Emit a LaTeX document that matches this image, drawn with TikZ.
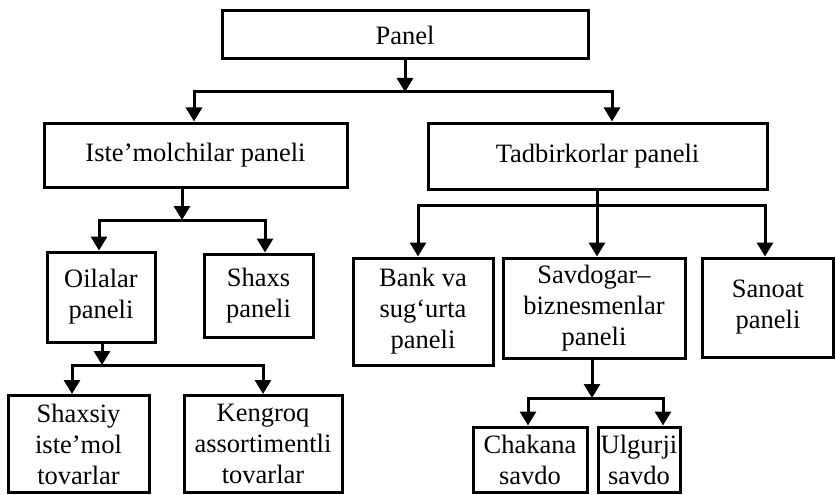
\documentclass[tikz,border=0pt]{standalone}
\usepackage{fontspec}
\setmainfont{Liberation Serif}
\usetikzlibrary{arrows.meta}
\begin{document}
\begin{tikzpicture}[x=1pt,y=-1pt,
  box/.style={draw, line width=3pt, inner sep=0pt, align=center,
    font=\fontsize{26.5}{31}\selectfont},
  conn/.style={line width=3pt, line cap=rect},
  arr/.style={conn, -{Triangle[width=16pt,length=14pt]}}]
\useasboundingbox (0,0) rectangle (836,495);
% boxes
\node[box, minimum width=366pt, minimum height=48pt] (panel) at (405,35) {Panel};
\node[box, minimum width=303pt, minimum height=64pt] (iste) at (195.5,155) {Iste’molchilar paneli};
\node[box, minimum width=339pt, minimum height=66pt] (tad) at (597.5,156) {Tadbirkorlar paneli};
\node[box, minimum width=108pt, minimum height=90pt] (oil) at (101,297) {Oilalar\\paneli};
\node[box, minimum width=109pt, minimum height=83pt] (shaxs) at (258.5,295.5) {Shaxs\\paneli};
\node[box, minimum width=140pt, minimum height=107pt] (bank) at (423,311.5) {Bank va\\sug‘urta\\paneli};
\node[box, minimum width=182pt, minimum height=100pt] (savdo) at (594,308) {Savdogar–\\biznesmenlar\\paneli};
\node[box, minimum width=131pt, minimum height=99pt] (sanoat) at (768,307.5) {Sanoat\\paneli};
\node[box, minimum width=141pt, minimum height=97pt] (shaxsiy) at (78.5,444) {Shaxsiy\\iste’mol\\tovarlar};
\node[box, minimum width=158pt, minimum height=97pt] (keng) at (263,444) {Kengroq\\assortimentli\\tovarlar};
\node[box, minimum width=114pt, minimum height=65pt] (chak) at (530,459.5) {Chakana\\savdo};
\node[box, minimum width=82pt, minimum height=65pt] (ulg) at (639,459.5) {Ulgurji\\savdo};
% junctions
\coordinate (p1) at (405,92);
\coordinate (p1L) at (194,92);
\coordinate (p1R) at (612,92);
\coordinate (i1) at (182,220);
\coordinate (i1L) at (99,220);
\coordinate (i1R) at (265,220);
\coordinate (t1) at (597,205);
\coordinate (t1L) at (418,205);
\coordinate (t1R) at (765,205);
\coordinate (o1) at (102,365);
\coordinate (o1L) at (72,365);
\coordinate (o1R) at (263,365);
\coordinate (s1) at (592,398);
\coordinate (s1L) at (528,398);
\coordinate (s1R) at (663,398);
% Panel
\draw[arr] (p1 |- panel.south) -- (p1);
\draw[conn] (p1L) -- (p1R);
\draw[arr] (p1L) -- (p1L |- iste.north);
\draw[arr] (p1R) -- (p1R |- tad.north);
% Iste'molchilar
\draw[arr] (i1 |- iste.south) -- (i1);
\draw[conn] (i1L) -- (i1R);
\draw[arr] (i1L) -- (i1L |- oil.north);
\draw[arr] (i1R) -- (i1R |- shaxs.north);
% Tadbirkorlar
\draw[conn] (t1 |- tad.south) -- (t1);
\draw[conn] (t1L) -- (t1R);
\draw[arr] (t1L) -- (t1L |- bank.north);
\draw[arr] (t1) -- (t1 |- savdo.north);
\draw[arr] (t1R) -- (t1R |- sanoat.north);
% Oilalar
\draw[arr] (o1 |- oil.south) -- (o1);
\draw[conn] (o1L) -- (o1R);
\draw[arr] (o1L) -- (o1L |- shaxsiy.north);
\draw[arr] (o1R) -- (o1R |- keng.north);
% Savdogar
\draw[arr] (s1 |- savdo.south) -- (s1);
\draw[conn] (s1L) -- (s1R);
\draw[arr] (s1L) -- (s1L |- chak.north);
\draw[arr] (s1R) -- (s1R |- ulg.north);
\end{tikzpicture}
\end{document}
